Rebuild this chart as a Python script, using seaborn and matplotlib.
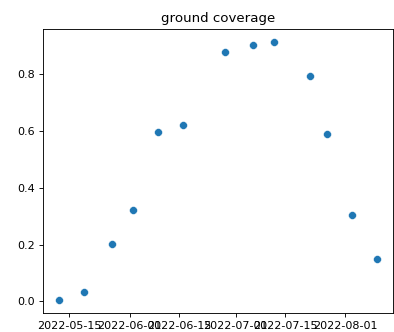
import matplotlib
matplotlib.use("Agg")
import matplotlib.pyplot as plt
import seaborn as sns
import pandas as pd

dates = ["2022-05-12", "2022-05-19", "2022-05-27", "2022-06-02", "2022-06-09",
         "2022-06-16", "2022-06-28", "2022-07-06", "2022-07-12", "2022-07-22",
         "2022-07-27", "2022-08-03", "2022-08-10"]
coverage = [0.004, 0.032, 0.202, 0.321, 0.597, 0.620, 0.879, 0.904, 0.914,
            0.795, 0.588, 0.305, 0.149]

df = pd.DataFrame({"date": pd.to_datetime(dates), "coverage": coverage})

fig = plt.figure(figsize=(394 / 80, 332 / 80), dpi=80)
ax = fig.add_axes([0.109, 0.057, 0.888, 0.856])
sns.scatterplot(data=df, x="date", y="coverage", ax=ax, s=50,
                color="#1f77b4", edgecolor="white", linewidth=0.4)
ax.set_xlabel("")
ax.set_ylabel("")
ax.set_title("ground coverage")
xt = pd.to_datetime(["2022-05-15", "2022-06-01", "2022-06-15", "2022-07-01",
                     "2022-07-15", "2022-08-01"])
ax.set_xticks(xt)
ax.set_xticklabels([d.strftime("%Y-%m-%d") for d in xt])
ax.set_yticks([0.0, 0.2, 0.4, 0.6, 0.8])
fig.savefig("out.png", dpi=80)
